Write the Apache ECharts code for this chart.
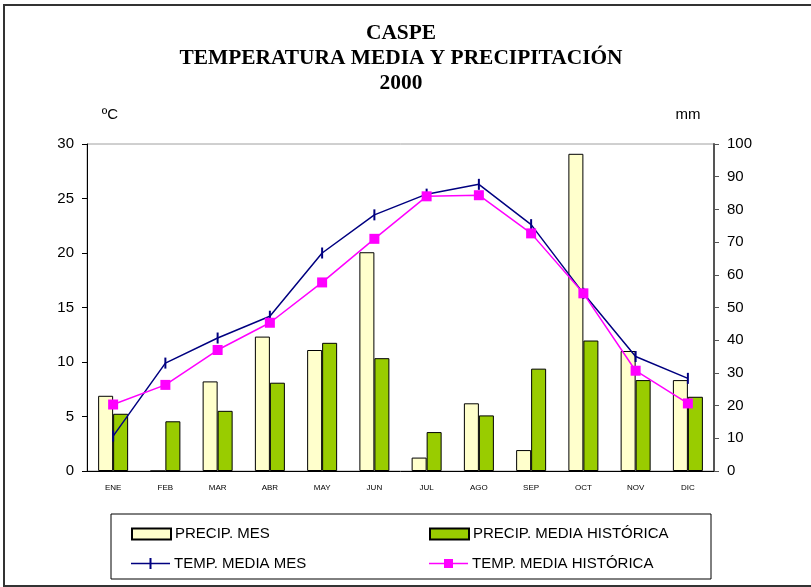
<!DOCTYPE html>
<html>
<head>
<meta charset="utf-8">
<script src="https://cdn.jsdelivr.net/npm/echarts@6/dist/echarts.min.js"></script>
<style>
html,body{margin:0;padding:0;background:#fff;}
#main{width:811px;height:587px;}
</style>
</head>
<body>
<div id="main"></div>
<script>
var months = ['ENE','FEB','MAR','ABR','MAY','JUN','JUL','AGO','SEP','OCT','NOV','DIC'];
var precipMes = [23.0, 0, 27.4, 41.1, 37.0, 66.9, 4.1, 20.7, 6.4, 97.0, 36.7, 27.8];
var precipHist = [17.5, 15.2, 18.4, 27.0, 39.2, 34.5, 11.9, 17.0, 31.3, 39.9, 27.8, 22.7];
var tempMes = [3.2, 9.9, 12.2, 14.2, 20.0, 23.5, 25.4, 26.3, 22.6, 16.3, 10.5, 8.5];
var tempHist = [6.1, 7.9, 11.1, 13.6, 17.3, 21.3, 25.2, 25.3, 21.8, 16.3, 9.2, 6.2];
var tempTicks = {min: 0, max: 30, interval: 5};
var precipTicks = {min: 0, max: 100, interval: 10};

var FONT = '"Liberation Sans", Arial, sans-serif';
var chart = echarts.init(document.getElementById('main'), null, {renderer: 'canvas'});

var ICON_TICK = 'path://M0,4.7L39,4.7L39,6.3L0,6.3Z M18.5,0L20.5,0L20.5,11L18.5,11Z';
var ICON_SQUARE = 'path://M0,4.7L39,4.7L39,6.3L0,6.3Z M15,1L24,1L24,10L15,10Z M0,0L0.01,0L0.01,11L0,11Z';

function legendAt(name, icon, left, top) {
  return {
    data: [{name: name, icon: icon}], left: left, top: top, orient: 'horizontal',
    itemWidth: 39, itemHeight: 11, itemGap: 0, padding: 0,
    selectedMode: false,
    textStyle: {fontFamily: FONT, fontSize: 15, color: '#000', padding: [0, 0, 0, -1]}
  };
}

var option = {
  animation: false,
  backgroundColor: '#fff',
  title: {
    text: 'CASPE\nTEMPERATURA MEDIA Y PRECIPITACIÓN\n2000',
    left: 396, top: 16, textAlign: 'center',
    textStyle: {fontFamily: '"Liberation Serif", "Times New Roman", serif', fontWeight: 'bold', fontSize: 21.4, lineHeight: 25, color: '#000'}
  },
  grid: {left: 87, right: 97, top: 144, bottom: 116, show: true, borderColor: '#a0a0a0', borderWidth: 1},
  legend: [
    legendAt('PRECIP. MES', 'rect', 131, 526.5),
    legendAt('PRECIP. MEDIA HISTÓRICA', 'rect', 429, 526.5),
    legendAt('TEMP. MEDIA MES', ICON_TICK, 131, 556),
    legendAt('TEMP. MEDIA HISTÓRICA', ICON_SQUARE, 429, 556)
  ],
  xAxis: {
    type: 'category', data: months, boundaryGap: true,
    axisLine: {lineStyle: {color: '#000', width: 1}},
    axisTick: {length: 4, lineStyle: {color: '#000'}},
    axisLabel: {fontFamily: FONT, fontSize: 8, color: '#000', margin: 13, interval: 0},
    splitLine: {show: false}
  },
  yAxis: [
    {
      type: 'value', position: 'left', min: tempTicks.min, max: tempTicks.max, interval: tempTicks.interval,
      axisLine: {show: true, lineStyle: {color: '#000', width: 1}},
      axisTick: {show: true, length: 5, lineStyle: {color: '#000'}},
      axisLabel: {fontFamily: FONT, fontSize: 15, color: '#000', margin: 13},
      splitLine: {show: false}
    },
    {
      type: 'value', position: 'right', min: precipTicks.min, max: precipTicks.max, interval: precipTicks.interval,
      axisLine: {show: true, lineStyle: {color: '#555', width: 2}},
      axisTick: {show: true, length: 5, lineStyle: {color: '#555'}},
      axisLabel: {fontFamily: FONT, fontSize: 15, color: '#000', margin: 13},
      splitLine: {show: false}
    }
  ],
  series: [
    {
      name: 'PRECIP. MES', type: 'bar', yAxisIndex: 1, data: precipMes,
      barWidth: 15, barGap: '0%',
      itemStyle: {color: '#FFFFCC', borderColor: '#000', borderWidth: 1}
    },
    {
      name: 'PRECIP. MEDIA HISTÓRICA', type: 'bar', yAxisIndex: 1, data: precipHist,
      barWidth: 15, barGap: '0%',
      itemStyle: {color: '#99CC00', borderColor: '#000', borderWidth: 1}
    },
    {
      name: 'TEMP. MEDIA MES', type: 'line', yAxisIndex: 0, data: tempMes, z: 5,
      symbol: 'rect', symbolSize: [2, 11], showAllSymbol: true,
      lineStyle: {color: '#000080', width: 1.5},
      itemStyle: {color: '#000080'}
    },
    {
      name: 'TEMP. MEDIA HISTÓRICA', type: 'line', yAxisIndex: 0, data: tempHist, z: 6,
      symbol: 'rect', symbolSize: 10, showAllSymbol: true,
      lineStyle: {color: '#FF00FF', width: 1.5},
      itemStyle: {color: '#FF00FF'}
    }
  ],
  graphic: [
    {type: 'rect', shape: {x: 4, y: 5, width: 830, height: 581}, style: {fill: null, stroke: '#333', lineWidth: 2}, silent: true, z: -1},
    {type: 'rect', shape: {x: 111, y: 514, width: 600, height: 65}, style: {fill: null, stroke: '#000', lineWidth: 1}, silent: true},
    {type: 'text', x: 110, y: 115, style: {text: 'ºC', font: '15px ' + FONT, fill: '#000', textAlign: 'center', textVerticalAlign: 'middle'}},
    {type: 'text', x: 688, y: 115, style: {text: 'mm', font: '15px ' + FONT, fill: '#000', textAlign: 'center', textVerticalAlign: 'middle'}}
  ]
};
chart.setOption(option);
</script>
</body>
</html>
